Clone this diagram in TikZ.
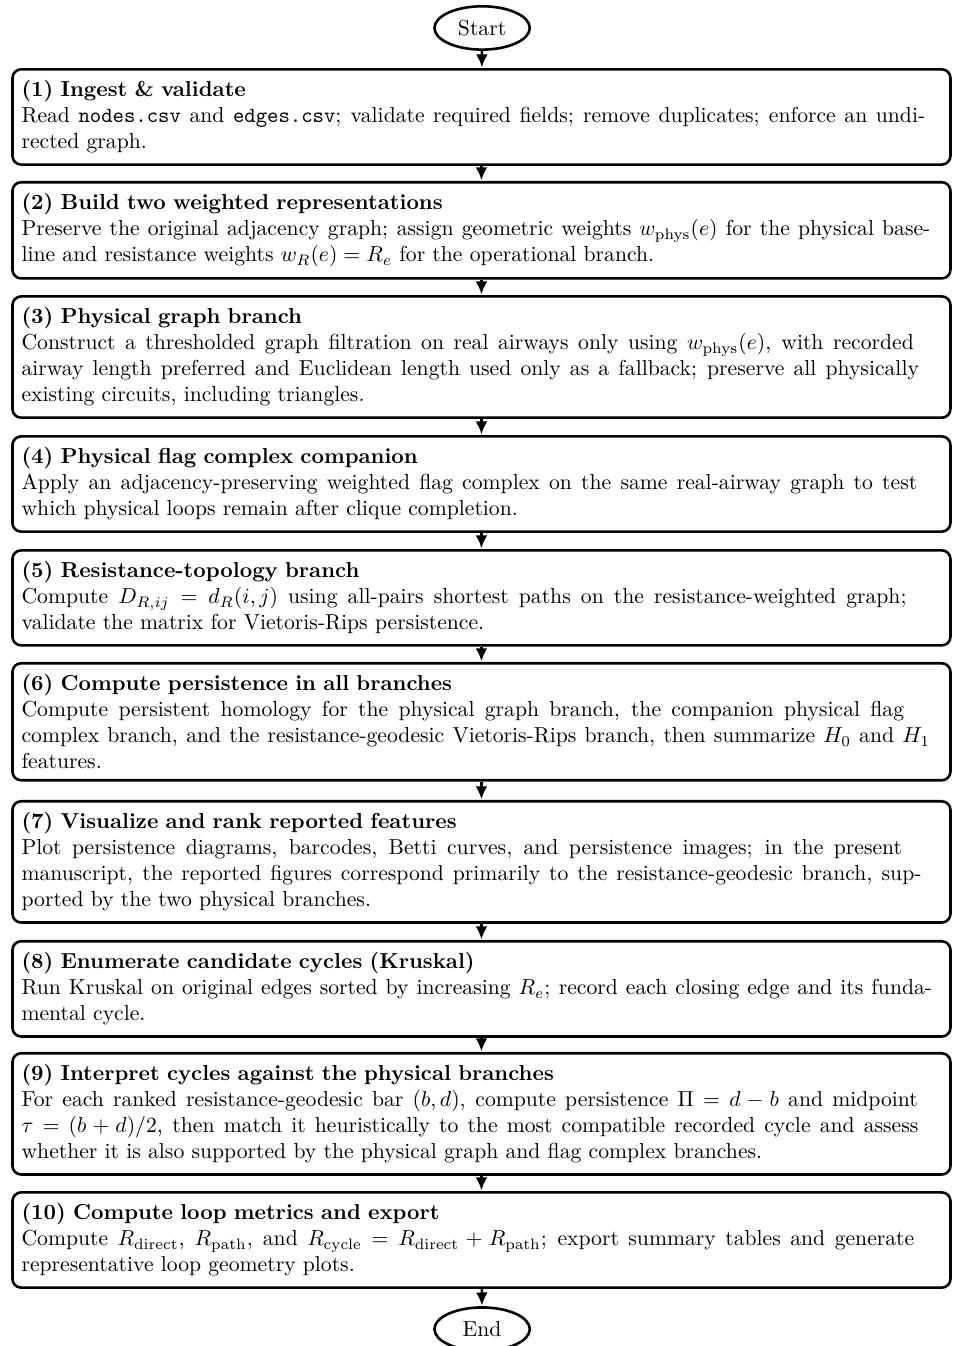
\documentclass[tikz,border=0pt]{standalone}
\usetikzlibrary{shapes.geometric,arrows.meta}
\newcommand{\ragtext}[1]{\leftskip=0pt\rightskip=0pt plus 2em\spaceskip=.3333em plus .1667em minus 0em\relax #1\par}
\begin{document}
\begin{tikzpicture}[x=1pt,y=1pt,
  stepbox/.style={draw, very thick, rounded corners=4pt, text width=424.5pt, align=justify, inner xsep=4.2pt, inner ysep=5.2pt, anchor=north},
  term/.style={draw, very thick, ellipse, minimum width=44pt, minimum height=20pt, inner sep=0pt},
  flow/.style={very thick, -{Latex[length=6pt,width=5.5pt]}, shorten >=0.3pt}]
\useasboundingbox (0,0) rectangle (440.8,-621.2);
\node[term] (start) at (222.5,-12.9) {Start};
\node[stepbox] (b1) at (222.2,-31.4) {\ragtext{\textbf{(1) Ingest \& validate}\\
Read \texttt{nodes.csv} and \texttt{edges.csv}; validate required fields; remove duplicates; enforce an undirected graph.}};
\node[stepbox] (b2) at (222.2,-83.5) {\ragtext{\textbf{(2) Build two weighted representations}\\
Preserve the original adjacency graph; assign geometric weights $w_{\mathrm{phys}}(e)$ for the physical base-\linebreak line and resistance weights $w_R(e)=R_e$ for the operational branch.}};
\node[stepbox] (b3) at (222.2,-136.2) {\ragtext{\textbf{(3) Physical graph branch}\\
Construct a thresholded graph filtration on real airways only using $w_{\mathrm{phys}}(e)$, with recorded airway length preferred and Euclidean length used only as a fallback; preserve all physically existing circuits, including triangles.}};
\node[stepbox] (b4) at (222.2,-200.8) {\ragtext{\textbf{(4) Physical flag complex companion}\\
Apply an adjacency-preserving weighted flag complex on the same real-airway graph to test which physical loops remain after clique completion.}};
\node[stepbox] (b5) at (222.2,-253.4) {\ragtext{\textbf{(5) Resistance-topology branch}\\
Compute $D_{R,ij} = d_R(i,j)$ using all-pairs shortest paths on the resistance-weighted graph; validate the matrix for Vietoris-Rips persistence.}};
\node[stepbox] (b6) at (222.2,-305.5) {\ragtext{\textbf{(6) Compute persistence in all branches}\\
Compute persistent homology for the physical graph branch, the companion physical flag complex branch, and the resistance-geodesic Vietoris-Rips branch, then summarize $H_0$ and $H_1$ features.}};
\node[stepbox] (b7) at (222.2,-369.2) {\ragtext{\textbf{(7) Visualize and rank reported features}\\
Plot persistence diagrams, barcodes, Betti curves, and persistence images; in the present manuscript, the reported figures correspond primarily to the resistance-geodesic branch, supported by the two physical branches.}};
\node[stepbox] (b8) at (222.2,-433.8) {\ragtext{\textbf{(8) Enumerate candidate cycles (Kruskal)}\\
Run Kruskal on original edges sorted by increasing $R_e$; record each closing edge and its funda-\linebreak mental cycle.}};
\node[stepbox] (b9) at (222.2,-485.5) {\ragtext{\textbf{(9) Interpret cycles against the physical branches}\\
For each ranked resistance-geodesic bar $(b,d)$, compute persistence $\Pi = d-b$ and midpoint $\tau=(b+d)/2$, then match it heuristically to the most compatible recorded cycle and assess whether it is also supported by the physical graph and flag complex branches.}};
\node[stepbox] (b10) at (222.2,-549.7) {\ragtext{\textbf{(10) Compute loop metrics and export}\\
Compute $R_{\mathrm{direct}}$, $R_{\mathrm{path}}$, and $R_{\mathrm{cycle}} = R_{\mathrm{direct}} + R_{\mathrm{path}}$; export summary tables and generate representative loop geometry plots.}};
\node[term] (end) at (222.5,-613.4) {End};
\draw[flow] (start) -- (b1);
\draw[flow] (b1) -- (b2);
\draw[flow] (b2) -- (b3);
\draw[flow] (b3) -- (b4);
\draw[flow] (b4) -- (b5);
\draw[flow] (b5) -- (b6);
\draw[flow] (b6) -- (b7);
\draw[flow] (b7) -- (b8);
\draw[flow] (b8) -- (b9);
\draw[flow] (b9) -- (b10);
\draw[flow] (b10) -- (end);
\end{tikzpicture}
\end{document}
